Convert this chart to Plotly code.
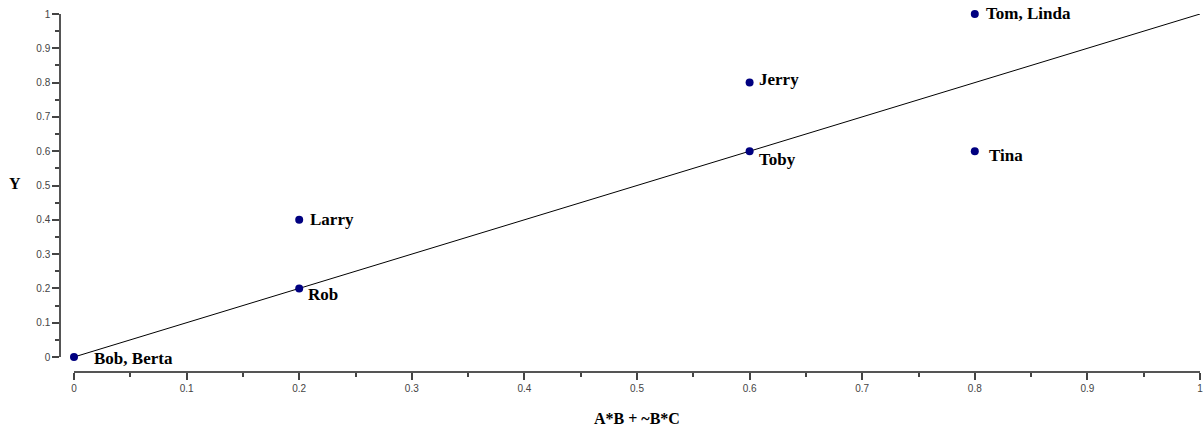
import plotly.graph_objects as go

names = ["Bob, Berta", "Rob", "Larry", "Toby", "Jerry", "Tina", "Tom, Linda"]
x_vals = [0.0, 0.2, 0.2, 0.6, 0.6, 0.8, 0.8]
y_vals = [0.0, 0.2, 0.4, 0.6, 0.8, 0.6, 1.0]
line_x = [0.0, 1.0]
line_y = [0.0, 1.0]
tick_vals = [0, 0.1, 0.2, 0.3, 0.4, 0.5, 0.6, 0.7, 0.8, 0.9, 1]
tick_text = ["0", "0.1", "0.2", "0.3", "0.4", "0.5", "0.6", "0.7", "0.8", "0.9", "1"]

# label offsets in pixels (style only)
label_shift = {
    "Bob, Berta": (18, -1),
    "Rob": (7, -6),
    "Larry": (9, 0),
    "Toby": (7, -8),
    "Jerry": (7, 3),
    "Tina": (12, -4),
    "Tom, Linda": (9, 1),
}

fig = go.Figure()
fig.add_trace(go.Scatter(x=line_x, y=line_y, mode="lines",
                         line=dict(color="black", width=1), hoverinfo="skip",
                         cliponaxis=False))
fig.add_trace(go.Scatter(x=x_vals, y=y_vals, mode="markers",
                         marker=dict(color="#000080", size=8),
                         cliponaxis=False))

for n, xv, yv in zip(names, x_vals, y_vals):
    dx, dy = label_shift[n]
    fig.add_annotation(x=xv, y=yv, text=f"<b>{n}</b>", showarrow=False,
                       xanchor="left", yanchor="middle", xshift=dx, yshift=dy,
                       font=dict(family="Liberation Serif", size=17, color="black"))

axis_common = dict(
    range=[0, 1], tickvals=tick_vals, ticktext=tick_text,
    showgrid=False, zeroline=False, showline=True,
    linecolor="#555555", linewidth=1.5,
    ticks="outside", ticklen=7, tickwidth=1.5, tickcolor="#444444",
    tickfont=dict(family="Liberation Sans", size=10, color="#444444"),
    ticklabeloverflow="allow", automargin=False,
    minor=dict(ticks="outside", ticklen=4, tickwidth=1.5, tickcolor="#444444", dtick=0.05, showgrid=False),
)

fig.update_layout(
    width=1203, height=427,
    margin=dict(l=60, r=3, t=14, b=55, autoexpand=False),
    paper_bgcolor="white", plot_bgcolor="white",
    showlegend=False,
    xaxis=dict(domain=[14/1140, 1], anchor="free", position=0, **axis_common),
    yaxis=dict(domain=[15/358, 1], anchor="free", position=0, **axis_common),
)

fig.add_annotation(xref="paper", yref="paper", x=(637-60)/1140, y=(427-55-418)/358,
                   text="<b>A*B + ~B*C</b>", showarrow=False, xanchor="center", yanchor="middle",
                   font=dict(family="Liberation Serif", size=16, color="black"))
fig.add_annotation(xref="paper", yref="paper", x=(15-60)/1140, y=(372-183)/358,
                   text="<b>Y</b>", showarrow=False, xanchor="center", yanchor="middle",
                   font=dict(family="Liberation Serif", size=16, color="black"))

fig.write_html("out.html")
